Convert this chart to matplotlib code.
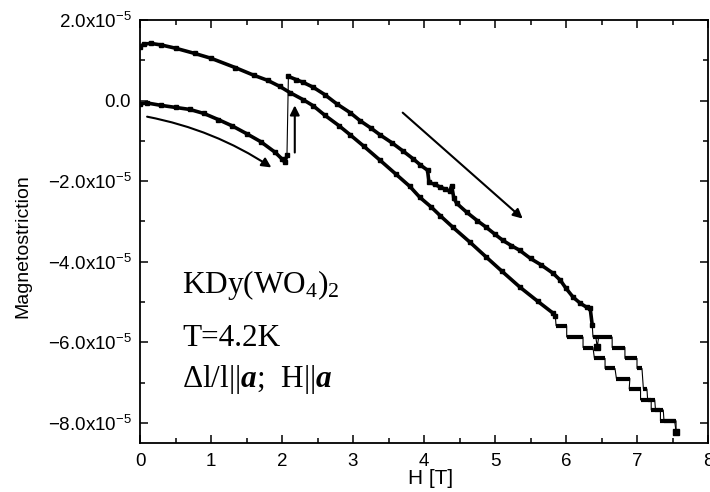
import numpy as np
import matplotlib
matplotlib.use("Agg")
import matplotlib.pyplot as plt
from matplotlib.ticker import MultipleLocator, FuncFormatter

# -----------------------------
# DATA  (magnetostriction in units of 1e-5, field in T)
# -----------------------------
# field up: 0 -> 2.07 T
h_up_a = [0.00, 0.10, 0.30, 0.50, 0.70, 0.90, 1.10, 1.30, 1.50, 1.70, 1.90, 2.00, 2.04, 2.07]
m_up_a = [-0.08, -0.06, -0.12, -0.17, -0.22, -0.32, -0.47, -0.63, -0.82, -1.02, -1.28, -1.45, -1.53, -1.36]

# field up: after the jump, 2.09 -> 6.37 T
h_up_b = [2.09, 2.20, 2.30, 2.44, 2.60, 2.77, 2.96, 3.10, 3.25, 3.38, 3.55, 3.71, 3.85, 3.95,
          4.05, 4.07, 4.15, 4.22, 4.30, 4.36, 4.39, 4.42, 4.46, 4.60, 4.75, 4.88, 5.00, 5.11,
          5.23, 5.35, 5.50, 5.65, 5.82, 5.92, 6.00, 6.10, 6.20, 6.29, 6.34, 6.37]
m_up_b = [0.60, 0.52, 0.45, 0.33, 0.15, -0.08, -0.30, -0.50, -0.68, -0.85, -1.05, -1.26, -1.45, -1.60,
          -1.73, -2.03, -2.08, -2.14, -2.20, -2.25, -2.12, -2.42, -2.55, -2.77, -2.98, -3.15, -3.32, -3.47,
          -3.60, -3.72, -3.92, -4.08, -4.29, -4.46, -4.66, -4.88, -5.03, -5.13, -5.15, -5.58]

# field up: staircase
up_step_start = [6.38, 6.65, 6.83, 7.00, 7.09, 7.15, 7.26, 7.38]
up_step_end = [6.65, 6.83, 7.00, 7.07, 7.14, 7.25, 7.37, 7.53]
up_step_level = [-5.87, -6.13, -6.40, -6.65, -7.16, -7.43, -7.68, -7.95]
h_glitch, m_glitch = 6.44, -6.12
h_end, m_end = 7.55, -8.22

# field down: staircase
dn_step_start = [5.86, 6.01, 6.24, 6.40, 6.55, 6.71, 6.89, 7.05, 7.20, 7.33]
dn_step_end = [6.01, 6.24, 6.38, 6.55, 6.69, 6.90, 7.05, 7.20, 7.33, 7.55]
dn_step_level = [-5.59, -5.87, -6.13, -6.40, -6.65, -6.90, -7.16, -7.43, -7.68, -7.95]

# field down: smooth part back to 0 T
h_dn = [0.00, 0.05, 0.15, 0.30, 0.50, 0.77, 1.00, 1.34, 1.60, 1.80, 1.97, 2.11, 2.30, 2.44, 2.60,
        2.80, 2.96, 3.15, 3.38, 3.60, 3.80, 3.94, 4.10, 4.23, 4.41, 4.65, 4.88, 5.10, 5.35, 5.60, 5.82, 5.85]
m_dn = [1.33, 1.40, 1.42, 1.38, 1.30, 1.17, 1.05, 0.82, 0.63, 0.50, 0.35, 0.20, 0.02, -0.13, -0.36,
        -0.62, -0.85, -1.13, -1.48, -1.82, -2.13, -2.40, -2.64, -2.86, -3.15, -3.52, -3.89, -4.24, -4.63, -4.98, -5.28, -5.35]

# -----------------------------
# STYLE
# -----------------------------
plt.rcParams['font.family'] = ['Liberation Sans', 'DejaVu Sans']
plt.rcParams['mathtext.fontset'] = 'custom'
plt.rcParams['mathtext.rm'] = 'Liberation Serif'
plt.rcParams['mathtext.it'] = 'Liberation Serif:italic'
plt.rcParams['mathtext.bf'] = 'Liberation Serif:bold'
plt.rcParams['mathtext.bfit'] = 'Liberation Serif:italic:bold'
plt.rcParams['mathtext.sf'] = 'Liberation Sans'

fig = plt.figure(figsize=(7.1, 4.92), dpi=100)
ax = fig.add_axes([140 / 710, 49 / 492, 568 / 710, 423 / 492])

# thin connecting line through every branch
def stair_path(starts, ends, levels):
    xs, ys = [], []
    for s, e, l in zip(starts, ends, levels):
        xs += [s, e]
        ys += [l, l]
    return xs, ys

ux, uy = stair_path(up_step_start, up_step_end, up_step_level)
# small dip on the first upper step
ux = [ux[0], h_glitch - 0.02, h_glitch, h_glitch + 0.02] + ux[1:]
uy = [uy[0], uy[0], m_glitch, uy[0]] + uy[1:]
up_x = h_up_a + h_up_b + ux + [h_end]
up_y = m_up_a + m_up_b + uy + [m_end]
ax.plot(up_x, up_y, color='k', lw=0.8)

dx, dy = stair_path(dn_step_start, dn_step_end, dn_step_level)
dn_x = h_dn + dx + [h_end]
dn_y = m_dn + dy + [m_end]
ax.plot(dn_x, dn_y, color='k', lw=0.8)

# thick data bands
for hh, mm in [(h_up_a, m_up_a), (h_up_b, m_up_b), (h_dn, m_dn)]:
    ax.plot(hh, mm, color='k', lw=2.6, solid_capstyle='butt',
            marker='s', ms=3.2, mec='k', mfc='k')
ax.hlines(up_step_level, up_step_start, up_step_end, color='k', lw=3.0)
ax.hlines(dn_step_level, dn_step_start, dn_step_end, color='k', lw=3.0)
ax.plot([h_glitch, h_end], [m_glitch, m_end], 's', color='k', ms=4)

# arrows
arr = dict(arrowstyle='-|>', color='k', lw=1.5, mutation_scale=14, shrinkA=0, shrinkB=0)
ax.annotate('', xy=(1.85, -1.66), xytext=(0.10, -0.40),
            arrowprops=dict(arr, connectionstyle='arc3,rad=-0.1'))
ax.annotate('', xy=(2.18, -0.12), xytext=(2.18, -1.29), arrowprops=arr)
ax.annotate('', xy=(5.39, -2.93), xytext=(3.70, -0.30), arrowprops=arr)

# text
serif = ['Liberation Serif', 'DejaVu Serif']
ax.text(0.59, -4.78, r'KDy(WO$_4$)$_2$', family=serif, fontsize=22.5, va='baseline')
ax.text(0.59, -6.10, 'T=4.2K', family=serif, fontsize=22.5, va='baseline')
ax.text(0.59, -7.11, r'Δl/l||$\mathbfit{a}$;  H||$\mathbfit{a}$', family=serif, fontsize=22.5,
        va='baseline')

# axes
ax.set_xlim(0, 8)
ax.set_ylim(-8.5, 2.0)
ax.xaxis.set_major_locator(MultipleLocator(1))
ax.xaxis.set_minor_locator(MultipleLocator(0.5))
ax.yaxis.set_major_locator(MultipleLocator(2))
ax.yaxis.set_minor_locator(MultipleLocator(1))


def ylab(v, pos):
    if abs(v) < 1e-9:
        return r'$\mathsf{0.0}$'
    return r'$\mathsf{%.1fx10^{-5}}$' % v


ax.yaxis.set_major_formatter(FuncFormatter(ylab))
ax.tick_params(which='both', direction='in', top=True, right=True, width=1.1, labelsize=13.5)
ax.tick_params(which='major', length=6)
ax.tick_params(which='minor', length=3.5)
ax.tick_params(axis='y', pad=6)
ax.tick_params(axis='x', pad=7)
for s in ax.spines.values():
    s.set_linewidth(1.3)

ax.set_xlabel('H [T]', fontsize=15)
ax.set_ylabel('Magnetostriction', fontsize=14)
ax.xaxis.set_label_coords(0.512, -0.062)
ax.yaxis.set_label_coords(-0.192, 0.466)

fig.savefig('out.png', dpi=100)
